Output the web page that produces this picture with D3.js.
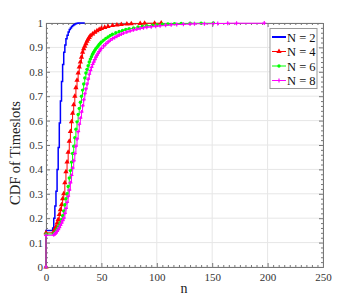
<!DOCTYPE html>
<html>
<head>
<meta charset="utf-8">
<script src="https://cdn.jsdelivr.net/npm/d3@7"></script>
<style>
  body { margin: 0; background: #fff; }
  text { font-family: "Liberation Serif", "Times New Roman", serif; }
</style>
</head>
<body>
<script>
// CDF, per N
const n2 = [0, 0, 1, 2, 3, 4, 5, 6, 7, 8, 9, 10, 11, 12, 13, 14, 15, 16, 17, 18, 19, 20, 21, 22, 23, 24, 25, 26, 27, 28, 29, 35];
const cdf2 = [0, 0.15, 0.15, 0.15, 0.15, 0.15, 0.15, 0.16, 0.20, 0.25, 0.31, 0.40, 0.49, 0.59, 0.68, 0.76, 0.83, 0.88, 0.91, 0.935, 0.95, 0.963, 0.973, 0.98, 0.986, 0.99, 0.993, 0.996, 0.998, 0.999, 1, 1];

const n4 = [0, 0, 7, 8, 9, 10, 11, 12, 13, 14, 15, 16, 17, 18, 19, 20, 21, 22, 23, 24, 25, 26, 27, 28, 29, 30, 31, 32, 33, 34, 35, 36, 37, 38, 39, 40, 42, 44, 46, 48, 50, 53, 56, 60, 64, 68, 73, 77, 85, 89, 98, 104];
const cdf4 = [0, 0.14, 0.145, 0.155, 0.165, 0.18, 0.195, 0.215, 0.235, 0.255, 0.28, 0.30, 0.345, 0.39, 0.43, 0.47, 0.515, 0.555, 0.595, 0.63, 0.665, 0.70, 0.735, 0.765, 0.795, 0.82, 0.84, 0.86, 0.88, 0.895, 0.905, 0.915, 0.925, 0.933, 0.941, 0.948, 0.955, 0.962, 0.968, 0.973, 0.978, 0.982, 0.986, 0.99, 0.992, 0.994, 0.996, 0.997, 0.998, 0.999, 0.999, 1];

const n6 = [0, 0, 7, 8, 9, 10, 11, 12, 13, 14, 15, 16, 17, 18, 19, 20, 21, 22, 23, 24, 25, 26, 27, 28, 29, 30, 31, 32, 33, 34, 35, 36, 37, 38, 39, 40, 41, 42, 43, 44, 45, 46, 47, 48, 49, 50, 52, 54, 56, 58, 60, 63, 66, 69, 72, 75, 79, 83, 87, 91, 96, 100, 105, 110, 116, 122, 130, 140, 151];
const cdf6 = [0, 0.135, 0.138, 0.142, 0.148, 0.155, 0.163, 0.172, 0.183, 0.195, 0.21, 0.23, 0.255, 0.28, 0.30, 0.33, 0.365, 0.395, 0.43, 0.465, 0.495, 0.53, 0.565, 0.595, 0.625, 0.65, 0.675, 0.70, 0.725, 0.75, 0.775, 0.795, 0.81, 0.825, 0.84, 0.852, 0.862, 0.872, 0.88, 0.888, 0.895, 0.90, 0.906, 0.912, 0.917, 0.922, 0.93, 0.937, 0.943, 0.949, 0.954, 0.96, 0.965, 0.97, 0.974, 0.977, 0.98, 0.984, 0.987, 0.989, 0.991, 0.993, 0.995, 0.996, 0.997, 0.998, 0.999, 0.999, 1];

const n8 = [0, 0, 7, 8, 9, 10, 11, 12, 13, 14, 15, 16, 17, 18, 19, 20, 21, 22, 23, 24, 25, 26, 27, 28, 29, 30, 31, 32, 33, 34, 35, 36, 37, 38, 39, 40, 41, 42, 43, 44, 45, 46, 47, 48, 49, 50, 52, 54, 56, 58, 60, 62, 64, 66, 68, 70, 73, 76, 79, 82, 85, 88, 91, 95, 99, 103, 108, 113, 118, 124, 130, 134, 143, 151, 155, 164, 172, 197];
const cdf8 = [0, 0.13, 0.132, 0.135, 0.14, 0.146, 0.153, 0.161, 0.17, 0.18, 0.19, 0.20, 0.22, 0.24, 0.265, 0.29, 0.315, 0.345, 0.375, 0.405, 0.435, 0.465, 0.495, 0.525, 0.555, 0.585, 0.61, 0.635, 0.66, 0.685, 0.71, 0.73, 0.75, 0.77, 0.79, 0.805, 0.818, 0.83, 0.84, 0.85, 0.86, 0.868, 0.876, 0.883, 0.89, 0.896, 0.906, 0.915, 0.923, 0.93, 0.936, 0.941, 0.946, 0.951, 0.955, 0.959, 0.964, 0.968, 0.972, 0.975, 0.978, 0.981, 0.983, 0.985, 0.987, 0.989, 0.991, 0.993, 0.994, 0.995, 0.996, 0.997, 0.997, 0.998, 0.998, 0.999, 0.999, 1];

const seriesNames = ["N = 2", "N = 4", "N = 6", "N = 8"];
const xTicks = [0, 50, 100, 150, 200, 250];
const yTicks = [0, 0.1, 0.2, 0.3, 0.4, 0.5, 0.6, 0.7, 0.8, 0.9, 1];

const width = 357, height = 299;
const plotL = 46, plotR = 323, plotT = 23, plotB = 267;

const svg = d3.select("body").append("svg")
  .attr("width", width)
  .attr("height", height);

const x = d3.scaleLinear().domain([0, 250]).range([plotL, plotR]);
const y = d3.scaleLinear().domain([0, 1]).range([plotB, plotT]);

// grid
svg.append("g").selectAll("line").data(xTicks).join("line")
  .attr("x1", d => x(d)).attr("x2", d => x(d))
  .attr("y1", plotT).attr("y2", plotB)
  .attr("stroke", "#e6e6e6");
svg.append("g").selectAll("line").data(yTicks).join("line")
  .attr("x1", plotL).attr("x2", plotR)
  .attr("y1", d => y(d)).attr("y2", d => y(d))
  .attr("stroke", "#e6e6e6");

// axes, ticks pointing inward on all sides
const xMinor = d3.range(0, 251, 5).filter(d => d % 50 !== 0);
const yMinor = d3.range(0, 51, 1).map(d => d / 50).filter((d, i) => i % 5 !== 0);

function styleAxis(g) {
  g.selectAll("path, line").attr("stroke", "#777");
  g.selectAll("text").attr("fill", "#333").style("font-size", "11px")
    .style("font-family", '"Liberation Serif", serif');
}

svg.append("g").attr("transform", `translate(0,${plotB})`)
  .call(d3.axisBottom(x).tickValues(xTicks).tickSize(-4).tickSizeOuter(0).tickPadding(6).tickFormat(d3.format("d")))
  .call(styleAxis);
svg.append("g").attr("transform", `translate(0,${plotB})`)
  .call(d3.axisBottom(x).tickValues(xMinor).tickSize(-2).tickSizeOuter(0).tickFormat(""))
  .call(styleAxis);
svg.append("g").attr("transform", `translate(0,${plotT})`)
  .call(d3.axisTop(x).tickValues(xTicks).tickSize(-4).tickSizeOuter(0).tickFormat(""))
  .call(styleAxis);
svg.append("g").attr("transform", `translate(0,${plotT})`)
  .call(d3.axisTop(x).tickValues(xMinor).tickSize(-2).tickSizeOuter(0).tickFormat(""))
  .call(styleAxis);

svg.append("g").attr("transform", `translate(${plotL},0)`)
  .call(d3.axisLeft(y).tickValues(yTicks).tickSize(-4).tickSizeOuter(0).tickPadding(3).tickFormat(d => d3.format("~g")(d)))
  .call(styleAxis);
svg.append("g").attr("transform", `translate(${plotL},0)`)
  .call(d3.axisLeft(y).tickValues(yMinor).tickSize(-2).tickSizeOuter(0).tickFormat(""))
  .call(styleAxis);
svg.append("g").attr("transform", `translate(${plotR},0)`)
  .call(d3.axisRight(y).tickValues(yTicks).tickSize(-4).tickSizeOuter(0).tickFormat(""))
  .call(styleAxis);
svg.append("g").attr("transform", `translate(${plotR},0)`)
  .call(d3.axisRight(y).tickValues(yMinor).tickSize(-2).tickSizeOuter(0).tickFormat(""))
  .call(styleAxis);

// series
const line = d3.line().x(d => x(d[0])).y(d => y(d[1])).curve(d3.curveStepAfter);
const zip = (a, b) => a.map((v, i) => [v, b[i]]);

const series = [
  { pts: zip(n2, cdf2), color: "#0000ff", width: 1.5, marker: null },
  { pts: zip(n4, cdf4), color: "#ff0000", width: 1, marker: "tri" },
  { pts: zip(n6, cdf6), color: "#00ff00", width: 1, marker: "circ" },
  { pts: zip(n8, cdf8), color: "#ff00ff", width: 1, marker: "plus" }
];

const tri = d3.symbol(d3.symbolTriangle, 12)();
const circ = d3.symbol(d3.symbolCircle, 9)();
const plus = "M-2,0H2M0,-2V2";

function drawMarker(g, type, color) {
  if (type === "tri") g.append("path").attr("d", tri).attr("fill", color);
  if (type === "circ") g.append("path").attr("d", circ).attr("fill", color);
  if (type === "plus") g.append("path").attr("d", plus).attr("stroke", color).attr("stroke-width", 1.2).attr("fill", "none");
}

series.forEach(s => {
  svg.append("path").datum(s.pts)
    .attr("d", line)
    .attr("fill", "none")
    .attr("stroke", s.color)
    .attr("stroke-width", s.width);
  if (s.marker) {
    svg.append("g").selectAll("g").data(s.pts).join("g")
      .attr("transform", d => `translate(${x(d[0])},${y(d[1])})`)
      .each(function() { drawMarker(d3.select(this), s.marker, s.color); });
  }
});

// legend
const lg = svg.append("g").attr("transform", "translate(270,28.5)");
lg.append("rect").attr("width", 47).attr("height", 60)
  .attr("fill", "#fff").attr("stroke", "#999");
series.forEach((s, i) => {
  const cy = 8.5 + i * 14.5;
  lg.append("line").attr("x1", 2).attr("x2", 16).attr("y1", cy).attr("y2", cy)
    .attr("stroke", s.color).attr("stroke-width", i === 0 ? 2 : 1);
  if (s.marker) drawMarker(lg.append("g").attr("transform", `translate(9,${cy})`), s.marker, s.color);
  lg.append("text").attr("x", 17).attr("y", cy + 4.5)
    .style("font-size", "12.5px").attr("fill", "#111")
    .text(seriesNames[i]);
});

// axis titles
svg.append("text")
  .attr("transform", "translate(20,153) rotate(-90)")
  .attr("text-anchor", "middle")
  .style("font-size", "14.5px").attr("fill", "#222")
  .text("CDF of Timeslots");
svg.append("text")
  .attr("x", 184).attr("y", 293)
  .attr("text-anchor", "middle")
  .style("font-size", "14px").attr("fill", "#222")
  .text("n");
</script>
</body>
</html>
